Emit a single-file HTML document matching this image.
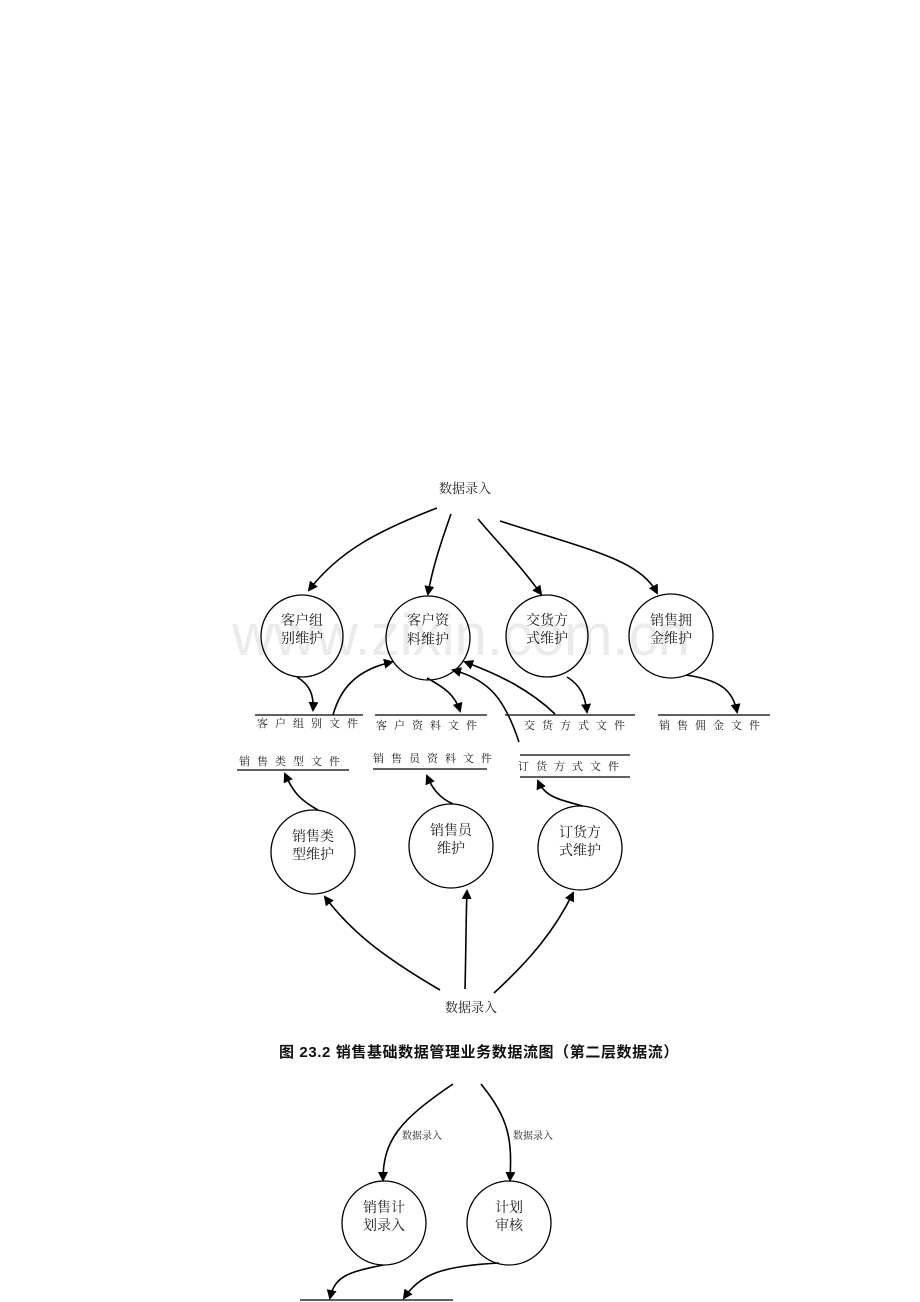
<!DOCTYPE html>
<html><head><meta charset="utf-8"><style>
html,body{margin:0;padding:0;background:#fff;}
svg{display:block;}
text{font-family:"Liberation Serif","Noto Serif CJK SC","Noto Sans CJK SC",serif;fill:#222;}
.c{fill:none;stroke:#000;stroke-width:1.3;}
.l{fill:none;stroke:#000;stroke-width:1.6;}
.s{stroke:#000;stroke-width:1.3;}
.n{font-size:14px;text-anchor:middle;}
.f{font-size:11px;letter-spacing:7px;}
</style></head><body>
<svg width="920" height="1302" viewBox="0 0 920 1302" xmlns="http://www.w3.org/2000/svg">
<defs><marker id="a" markerWidth="10" markerHeight="10" refX="8" refY="5" orient="auto" markerUnits="userSpaceOnUse"><path d="M0,0 L10,5 L0,10 z" fill="#000"/></marker></defs>
<text x="461" y="655" font-size="58" text-anchor="middle" style="fill:#ebebeb;font-family:'Liberation Sans',sans-serif">www.zixin.com.cn</text>
<text x="465" y="493" class="n" style="font-size:13px">数据录入</text>
<path class="l" d="M437,508 C380,530 340,550 309,590" marker-end="url(#a)"/>
<path class="l" d="M451,514 C440,545 432,570 428,594" marker-end="url(#a)"/>
<path class="l" d="M478,519 C500,545 520,565 541,594" marker-end="url(#a)"/>
<path class="l" d="M500,521 C590,550 640,560 657,593" marker-end="url(#a)"/>
<circle class="c" cx="302" cy="636" r="41"/>
<circle class="c" cx="428" cy="638" r="42"/>
<circle class="c" cx="547" cy="636" r="41"/>
<circle class="c" cx="671" cy="636" r="42"/>
<text class="n" x="302" y="625">客户组</text><text class="n" x="302" y="643">别维护</text>
<text class="n" x="428" y="625">客户资</text><text class="n" x="428" y="644">料维护</text>
<text class="n" x="547" y="625">交货方</text><text class="n" x="547" y="643">式维护</text>
<text class="n" x="671" y="625">销售拥</text><text class="n" x="671" y="643">金维护</text>
<path class="s" d="M255,715 H363 M375,715 H487 M505,715 H635 M658,715 H770 M237,770 H349 M373,769 H487 M520,755 H630 M520,777 H630 M300,1300 H453"/>
<text class="f" x="257" y="727">客户组别文件</text>
<text class="f" x="376" y="729">客户资料文件</text>
<text class="f" x="524" y="729">交货方式文件</text>
<text class="f" x="659" y="729">销售佣金文件</text>
<text class="f" x="239" y="765">销售类型文件</text>
<text class="f" x="373" y="762">销售员资料文件</text>
<text class="f" x="518" y="770">订货方式文件</text>
<path class="l" d="M297,677 C310,685 314,695 313,710" marker-end="url(#a)"/>
<path class="l" d="M333,715 C340,690 355,670 392,662" marker-end="url(#a)"/>
<path class="l" d="M427,678 C445,688 455,695 460,711" marker-end="url(#a)"/>
<path class="l" d="M555,714 C530,690 500,675 465,662" marker-end="url(#a)"/>
<path class="l" d="M519,742 C505,700 490,680 453,670" marker-end="url(#a)"/>
<path class="l" d="M567,677 C580,685 585,695 587,712" marker-end="url(#a)"/>
<path class="l" d="M686,675 C720,680 733,690 737,712" marker-end="url(#a)"/>
<circle class="c" cx="313" cy="852" r="42"/>
<circle class="c" cx="451" cy="846" r="42"/>
<circle class="c" cx="580" cy="848" r="42"/>
<text class="n" x="313" y="841">销售类</text><text class="n" x="313" y="859">型维护</text>
<text class="n" x="451" y="835">销售员</text><text class="n" x="451" y="853">维护</text>
<text class="n" x="580" y="837">订货方</text><text class="n" x="580" y="855">式维护</text>
<path class="l" d="M318,810 C300,800 293,792 285,774" marker-end="url(#a)"/>
<path class="l" d="M453,804 C440,798 433,790 427,776" marker-end="url(#a)"/>
<path class="l" d="M583,806 C560,800 545,797 538,781" marker-end="url(#a)"/>
<path class="l" d="M440,990 C380,955 350,930 325,897" marker-end="url(#a)"/>
<path class="l" d="M465,989 C466,950 466,915 467,891" marker-end="url(#a)"/>
<path class="l" d="M494,993 C530,960 555,930 573,893" marker-end="url(#a)"/>
<text x="471" y="1012" class="n" style="font-size:13px">数据录入</text>
<text x="479" y="1057" text-anchor="middle" style="font-size:15px;letter-spacing:0.6px;font-weight:bold;font-family:'Liberation Sans','Noto Sans CJK SC',sans-serif;fill:#111">图 23.2 销售基础数据管理业务数据流图（第二层数据流）</text>
<path class="l" d="M453,1084 C400,1120 383,1140 383,1180" marker-end="url(#a)"/>
<path class="l" d="M481,1084 C510,1120 512,1140 510,1180" marker-end="url(#a)"/>
<text x="402" y="1139" style="font-size:10px">数据录入</text>
<text x="513" y="1139" style="font-size:10px">数据录入</text>
<circle class="c" cx="384" cy="1223" r="42"/>
<circle class="c" cx="509" cy="1223" r="42"/>
<text class="n" x="384" y="1212">销售计</text><text class="n" x="384" y="1230">划录入</text>
<text class="n" x="509" y="1212">计划</text><text class="n" x="509" y="1230">审核</text>
<path class="l" d="M383,1265 C350,1272 335,1275 330,1298" marker-end="url(#a)"/>
<path class="l" d="M499,1263 C440,1266 420,1275 404,1298" marker-end="url(#a)"/>
</svg>
</body></html>
